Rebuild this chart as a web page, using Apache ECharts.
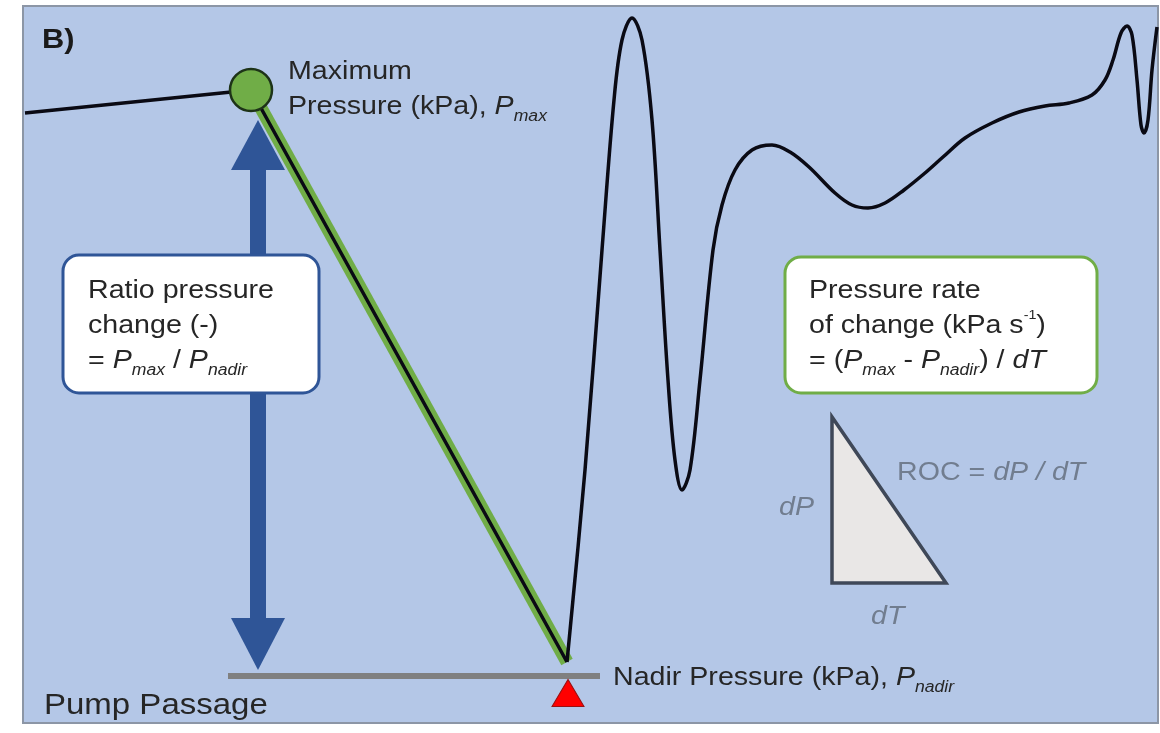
<!DOCTYPE html>
<html><head><meta charset="utf-8">
<script src="https://cdn.jsdelivr.net/npm/echarts@6/dist/echarts.min.js"></script>
<style>html,body{margin:0;padding:0;background:#fff}#c{width:1160px;height:733px}</style>
</head><body><div id="c"></div>
<script>
// schematic time (arbitrary units) and pressure (arbitrary units)
const leadT = [25, 251];
const leadP = [620, 643];
const maxPoint = [251, 643];
const nadirPoint = [567, 71];
const waveT = [567,585,602,614,622,632,642,652,660,668,675,682,690,700,713,722,735,752,772,790,809,835,852,868,885,904,925,943,965,992,1019,1045,1069,1092,1105,1113,1121,1127,1132,1137,1141,1144,1148,1152,1157];
const waveP = [71,263,483,633,693,715,693,613,483,353,273,243,263,353,483,528,563,583,588,581,566,540,528,525,530,543,560,576,595,610,621,627,630,638,653,673,700,707,698,653,608,600,613,663,706];
const baselineT = [228, 600];
const baselineP = 57;
const nadirMarker = [568, 40];
const arrowT = 258;
const arrowShaftP = [113, 568];
const arrowHeadP = [588, 89];
const rocT = [832, 832, 946];
const rocP = [316, 150, 150];

const FONT = '"Liberation Sans", Arial, sans-serif';
const TXT = '#262626';
const GREY = '#717d8f';
const FS = 26;
const SX = 1.1;

const chart = echarts.init(document.getElementById('c'), null, {renderer: 'canvas'});

function pairs(ts, ps) { return ts.map((t, i) => [t, ps[i]]); }

const subRich = (size, col) => ({
  n: {fontSize: size, fontFamily: FONT, fill: col || TXT, lineHeight: 35},
  i: {fontSize: size, fontFamily: FONT, fill: col || TXT, fontStyle: 'italic', lineHeight: 35},
  s: {fontSize: 16, fontFamily: FONT, fill: col || TXT, fontStyle: 'italic', lineHeight: 16, verticalAlign: 'bottom'},
  sup: {fontSize: 13, fontFamily: FONT, fill: col || TXT, lineHeight: 18, verticalAlign: 'top'}
});

function rt(x, y, text, col) {
  return {type: 'text', x: x, y: y, z: 100, scaleX: SX,
    style: {text: text, rich: subRich(FS, col), verticalAlign: 'middle', align: 'left', fontSize: FS, fontFamily: FONT}};
}
function pt(x, y, text, opts) {
  return {type: 'text', x: x, y: y, z: 100, scaleX: SX,
    style: Object.assign({text: text, fontFamily: FONT, fontSize: FS, fill: TXT, verticalAlign: 'middle', align: 'left'}, opts || {})};
}

const option = {
  backgroundColor: '#ffffff',
  animation: false,
  grid: {left: 23, right: 2, top: 6, bottom: 10, show: true, backgroundColor: '#b4c7e7', borderColor: '#8c96a6', borderWidth: 2},
  xAxis: {type: 'value', min: 23, max: 1158, show: false},
  yAxis: {type: 'value', min: 10, max: 727, show: false},
  series: [
    {type: 'line', data: baselineT.map(t => [t, baselineP]), symbol: 'none', lineStyle: {color: '#808080', width: 6}, z: 2},
    {type: 'line', data: [maxPoint, nadirPoint], symbol: 'none', lineStyle: {color: '#70ad47', width: 13}, z: 3},
    {type: 'line', data: pairs(leadT, leadP).concat([nadirPoint]), symbol: 'none', lineStyle: {color: '#0a0a14', width: 3.5}, z: 4},
    {type: 'line', data: pairs(waveT, waveP), smooth: 0.35, symbol: 'none', lineStyle: {color: '#0a0a14', width: 3.5}, z: 4},
    {type: 'line', data: arrowShaftP.map(p => [arrowT, p]), symbol: 'none', lineStyle: {color: '#2f5597', width: 16}, z: 5},
    {type: 'scatter', data: [[arrowT, arrowHeadP[0]]], symbol: 'triangle', symbolSize: [54, 50], itemStyle: {color: '#2f5597', opacity: 1}, z: 5},
    {type: 'scatter', data: [[arrowT, arrowHeadP[1]]], symbol: 'triangle', symbolRotate: 180, symbolSize: [54, 52], itemStyle: {color: '#2f5597', opacity: 1}, z: 5},
    {type: 'scatter', data: [maxPoint], symbolSize: 42, itemStyle: {color: '#70ad47', borderColor: '#1d3318', borderWidth: 2.5, opacity: 1}, z: 6},
    {type: 'scatter', data: [nadirMarker], symbol: 'triangle', symbolSize: [32, 27], itemStyle: {color: '#ff0000', borderColor: '#9a1010', borderWidth: 1, opacity: 1}, z: 6},
    {type: 'custom', data: [0], z: 3,
      renderItem: function (params, api) {
        const pts = rocT.map((t, i) => api.coord([t, rocP[i]]));
        return {type: 'polygon', shape: {points: pts}, style: {fill: '#e9e7e6', stroke: '#3f4858', lineWidth: 3.5, lineJoin: 'miter'}};
      }
    }
  ],
  graphic: [
    pt(42, 40, 'B)', {fontWeight: 'bold', fontSize: 28, fill: '#1a1a1a'}),
    pt(288, 72, 'Maximum'),
    rt(288, 107, '{n|Pressure (kPa), }{i|P}{s|max}'),
    {type: 'rect', shape: {x: 63, y: 255, width: 256, height: 138, r: 16}, z: 90, style: {fill: '#ffffff', stroke: '#2f5597', lineWidth: 3}},
    rt(88, 326, '{n|Ratio pressure}\n{n|change (-)}\n{n|= }{i|P}{s|max}{n| / }{i|P}{s|nadir}'),
    {type: 'rect', shape: {x: 785, y: 257, width: 312, height: 136, r: 16}, z: 90, style: {fill: '#ffffff', stroke: '#70ad47', lineWidth: 3}},
    rt(809, 326, '{n|Pressure rate}\n{n|of change (kPa s}{sup|-1}{n|)}\n{n|= (}{i|P}{s|max}{n| - }{i|P}{s|nadir}{n|) / }{i|dT}'),
    rt(897, 473, '{n|ROC = }{i|dP / dT}', GREY),
    pt(779, 508, 'dP', {fontStyle: 'italic', fill: GREY}),
    pt(871, 617, 'dT', {fontStyle: 'italic', fill: GREY}),
    rt(613, 678, '{n|Nadir Pressure (kPa), }{i|P}{s|nadir}'),
    pt(44, 706, 'Pump Passage', {fontSize: 30})
  ]
};
chart.setOption(option);
</script></body></html>
